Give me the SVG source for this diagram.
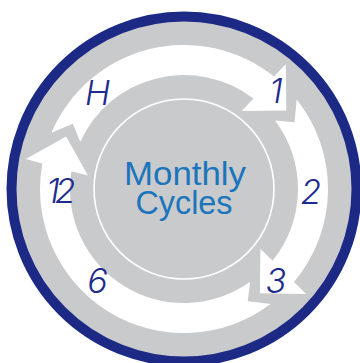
<svg xmlns="http://www.w3.org/2000/svg" width="360" height="363" viewBox="0 0 360 363">
<style>
.disk{fill:#c9cacc}
.ring{fill:none;stroke:#1c2a86;stroke-width:10}
.arrow{fill:#ffffff}
.inner{fill:none;stroke:#ffffff;stroke-width:1.6}
.digit{font-family:Inter,"DejaVu Sans",sans-serif;font-weight:300;font-style:italic;font-size:34px;fill:#1e2b8f;text-anchor:middle}
.title{font-family:"Liberation Sans",Arial,sans-serif;font-size:34px;fill:#1b75bc;text-anchor:middle}
</style>
<rect width="360" height="363" fill="#ffffff"/>
<g id="dial">
<circle class="disk" cx="184" cy="189" r="172.5"/>
<circle class="ring" cx="184" cy="189" r="172.5"/>
</g>
<g id="connectors">
<path id="arrow-a" class="arrow" d="M51.46,132.69 A144,144 0 0 1 274.03,76.62 L285.73,64.18 L286.34,110.47 L241.70,111.03 L253.40,98.56 A114,114 0 0 0 80.29,141.67 L72.74,123.72 Z"/>
<path id="arrow-b" class="arrow" d="M296.73,99.39 A144,144 0 0 1 293.99,281.95 L306.06,293.99 L259.82,293.36 L260.44,248.72 L272.60,260.74 A114,114 0 0 0 275.08,120.44 L294.45,122.37 Z"/>
<path id="arrow-c" class="arrow" d="M270.61,304.04 A144,144 0 0 1 42.28,163.50 L25.80,159.11 L66.15,136.53 L87.94,175.50 L71.40,171.17 A114,114 0 0 0 250.16,281.83 L247.72,301.16 Z"/>
</g>
<g id="center">
<circle class="inner" cx="184" cy="189" r="90"/>
<text class="title" x="185" y="185" textLength="122" lengthAdjust="spacingAndGlyphs">Monthly</text>
<text class="title" x="184" y="214" textLength="97" lengthAdjust="spacingAndGlyphs">Cycles</text>
</g>
<g id="label-h"><text class="digit" x="97.5" y="105">H</text></g>
<g id="label-1"><text class="digit" x="276" y="103">1</text></g>
<g id="label-2"><text class="digit" x="311" y="204">2</text></g>
<g id="label-3"><text class="digit" x="276" y="293">3</text></g>
<g id="label-6"><text class="digit" x="97.5" y="293">6</text></g>
<g id="label-12"><text class="digit" x="58.5" y="203" letter-spacing="-5">12</text></g>
</svg>
